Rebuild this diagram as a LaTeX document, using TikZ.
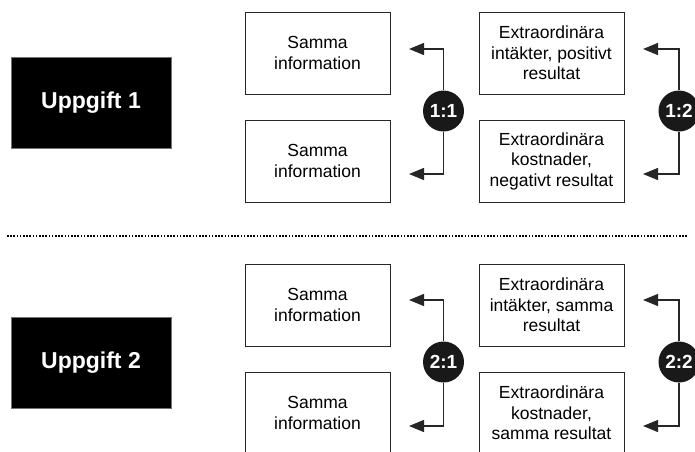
\documentclass[tikz,border=0pt]{standalone}
\usepackage{fontspec}
\setmainfont{Liberation Sans}
\usetikzlibrary{arrows.meta}
\begin{document}
\begin{tikzpicture}[x=1pt,y=-1pt,
  task/.style={fill=black,draw=black!55,text=white,inner sep=0pt,
    font=\bfseries\fontsize{23}{26}\selectfont,
    minimum width=160pt,minimum height=91pt},
  infobox/.style={draw=black!85,line width=1pt,fill=white,align=center,
    inner sep=0pt,font=\fontsize{17.5}{20.5}\selectfont,
    minimum width=145pt,minimum height=82pt},
  ratio/.style={circle,fill=black!90,text=white,inner sep=0pt,
    font=\bfseries\fontsize{19}{19}\selectfont,minimum size=41pt},
  link/.style={line width=1.3pt,draw=black!85,
    -{Triangle[length=15pt,width=12pt]}},
  sep/.style={line width=1.6pt,dash pattern=on 1.6pt off 1.6pt}]
  \useasboundingbox (0,0) rectangle (695,451);
  \clip (0,0) rectangle (695,451);
  \begin{scope}
    \node[task] (u1) at (91,102.5) {Uppgift 1};
    \node[infobox] (s11) at (317.5,53) {Samma\\information};
    \node[infobox] (s12) at (317.5,161) {Samma\\information};
    \node[infobox] (e11) at (551.5,53) {Extraordinära\\intäkter, positivt\\resultat};
    \node[infobox] (e12) at (551.5,161) {Extraordinära\\kostnader,\\negativt resultat};
    \node[ratio] (r11) at (443.5,111) {1:1};
    \node[ratio] (r12) at (679,111) {1:2};
    \coordinate (t11a) at (409,49);
    \coordinate (t11b) at (409,174);
    \coordinate (t12a) at (643,49);
    \coordinate (t12b) at (643,174);
    \draw[link] (r11) |- (t11a);
    \draw[link] (r11) |- (t11b);
    \draw[link] (r12) |- (t12a);
    \draw[link] (r12) |- (t12b);
  \end{scope}
  \coordinate (d0) at (7,236);
  \coordinate (d1) at (688,236);
  \draw[sep] (d0) -- (d1);
  \begin{scope}
    \node[task] (u2) at (91,363) {Uppgift 2};
    \node[infobox] (s21) at (317.5,305) {Samma\\information};
    \node[infobox] (s22) at (317.5,413) {Samma\\information};
    \node[infobox] (e21) at (551.5,305) {Extraordinära\\intäkter, samma\\resultat};
    \node[infobox] (e22) at (551.5,413) {Extraordinära\\kostnader,\\samma resultat};
    \node[ratio] (r21) at (443.5,362) {2:1};
    \node[ratio] (r22) at (679,362) {2:2};
    \coordinate (t21a) at (409,300);
    \coordinate (t21b) at (409,426);
    \coordinate (t22a) at (643,300);
    \coordinate (t22b) at (643,426);
    \draw[link] (r21) |- (t21a);
    \draw[link] (r21) |- (t21b);
    \draw[link] (r22) |- (t22a);
    \draw[link] (r22) |- (t22b);
  \end{scope}
\end{tikzpicture}
\end{document}
